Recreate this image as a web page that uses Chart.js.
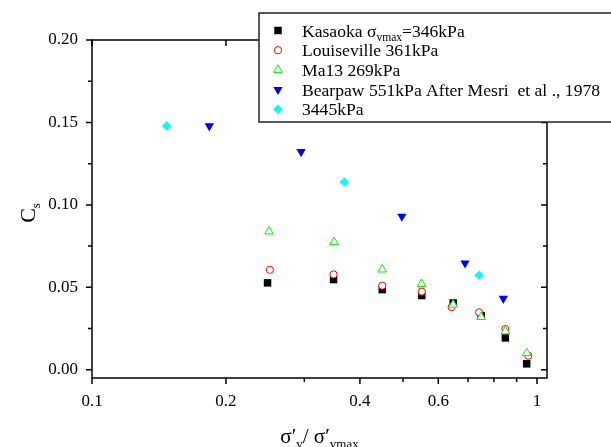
<!DOCTYPE html>
<html>
<head>
<meta charset="utf-8">
<script src="https://cdn.jsdelivr.net/npm/chart.js@4/dist/chart.umd.min.js"></script>
<style>
html,body{margin:0;padding:0;background:#fff;}
canvas{display:block;}
</style>
</head>
<body>
<canvas id="c" width="611" height="447"></canvas>
<script>
// ---- data ----
const kasaokaX = [0.248, 0.349, 0.449, 0.551, 0.648, 0.749, 0.849, 0.948];
const kasaokaY = [0.0527, 0.0547, 0.0486, 0.0450, 0.0405, 0.0328, 0.0193, 0.0036];
const louisX   = [0.251, 0.349, 0.449, 0.551, 0.643, 0.741, 0.849, 0.956];
const louisY   = [0.0606, 0.0578, 0.0510, 0.0474, 0.0380, 0.0348, 0.0247, 0.0085];
const ma13X    = [0.250, 0.350, 0.449, 0.550, 0.648, 0.749, 0.849, 0.948];
const ma13Y    = [0.0839, 0.0774, 0.0608, 0.0520, 0.0395, 0.0320, 0.0233, 0.0101];
const bearpawX = [0.1835, 0.295, 0.497, 0.689, 0.840];
const bearpawY = [0.1478, 0.1322, 0.0930, 0.0647, 0.0432];
const s3445X   = [0.1472, 0.369, 0.741];
const s3445Y   = [0.1479, 0.1139, 0.0573];

const xMajorTicks = [0.1, 0.2, 0.4, 0.6, 1];
const xMinorTicks = [0.3, 0.5, 0.7, 0.8, 0.9];
const xTickLabels = ['0.1', '0.2', '0.4', '0.6', '1'];
const yMajorTicks = [0, 0.05, 0.10, 0.15, 0.20];
const yMinorTicks = [0.025, 0.075, 0.125, 0.175];
const yTickLabels = ['0.00', '0.05', '0.10', '0.15', '0.20'];

const legendLabels = [
  ['Kasaoka σ', 'vmax', '=346kPa'],
  ['Louiseville 361kPa'],
  ['Ma13 269kPa'],
  ['Bearpaw 551kPa After Mesri  et al ., 1978'],
  ['3445kPa']
];

const SERIF = "'Liberation Serif','Times New Roman',serif";

function pts(xs, ys){ return xs.map((x,i)=>({x:x, y:ys[i]})); }

const styles = [
  {pointStyle:'rect', radius:5.3, rotation:0, bg:'#000000', border:'#000000', bw:0},
  {pointStyle:'circle', radius:3.6, rotation:0, bg:'#ffffff', border:'#ff0000', bw:1},
  {pointStyle:'triangle', radius:5.0, rotation:0, bg:'#ffffff', border:'#00ee00', bw:1},
  {pointStyle:'triangle', radius:5.4, rotation:180, bg:'#0000ff', border:'#0000ff', bw:0},
  {pointStyle:'rectRot', radius:4.8, rotation:0, bg:'#00ffff', border:'#00ffff', bw:0}
];
const seriesData = [pts(kasaokaX,kasaokaY), pts(louisX,louisY), pts(ma13X,ma13Y), pts(bearpawX,bearpawY), pts(s3445X,s3445Y)];

const datasets = seriesData.map((d,i)=>({
  label: legendLabels[i].join(''),
  data: d,
  order: 5 - i,
  pointStyle: styles[i].pointStyle,
  pointRadius: styles[i].radius,
  pointRotation: styles[i].rotation,
  pointBackgroundColor: styles[i].bg,
  pointBorderColor: styles[i].border,
  pointBorderWidth: styles[i].bw,
  showLine: false
}));

function drawMarker(ctx, st, x, y){
  ctx.save();
  ctx.fillStyle = st.bg;
  ctx.strokeStyle = st.border;
  ctx.lineWidth = st.bw;
  Chart.helpers.drawPoint(ctx, {pointStyle: st.pointStyle, rotation: st.rotation, radius: st.radius, borderWidth: st.bw}, x, y);
  ctx.restore();
}

const framePlugin = {
  id: 'frame',
  afterDatasetsDraw(chart){
    const ctx = chart.ctx, a = chart.chartArea;
    const xs = chart.scales.x, ys = chart.scales.y;
    ctx.save();
    ctx.strokeStyle = '#000';
    ctx.lineWidth = 1.5;
    ctx.beginPath();
    ctx.rect(a.left, a.top, a.right - a.left, a.bottom - a.top);
    ctx.stroke();
    ctx.beginPath();
    yMajorTicks.forEach(v=>{ const p = ys.getPixelForValue(v);
      ctx.moveTo(a.left - 6, p); ctx.lineTo(a.left, p);
      ctx.moveTo(a.right - 6, p); ctx.lineTo(a.right, p); });
    yMinorTicks.forEach(v=>{ const p = ys.getPixelForValue(v);
      ctx.moveTo(a.left - 4, p); ctx.lineTo(a.left, p);
      ctx.moveTo(a.right - 4, p); ctx.lineTo(a.right, p); });
    xMajorTicks.forEach(v=>{ const p = xs.getPixelForValue(v);
      ctx.moveTo(p, a.bottom); ctx.lineTo(p, a.bottom + 6);
      ctx.moveTo(p, a.top); ctx.lineTo(p, a.top + 6); });
    xMinorTicks.forEach(v=>{ const p = xs.getPixelForValue(v);
      ctx.moveTo(p, a.bottom); ctx.lineTo(p, a.bottom + 4);
      ctx.moveTo(p, a.top); ctx.lineTo(p, a.top + 4); });
    ctx.stroke();

    // axis titles
    ctx.fillStyle = '#000';
    ctx.textBaseline = 'alphabetic';
    ctx.textAlign = 'left';
    const big = '21px ' + SERIF, small = '13px ' + SERIF;
    const parts = [['σ′', big, 0], ['v', small, 5], ['/ σ′', big, 0], ['vmax', small, 5]];
    let w = 0;
    parts.forEach(p=>{ ctx.font = p[1]; w += ctx.measureText(p[0]).width; });
    let x = (a.left + a.right)/2 - w/2;
    const base = 443;
    parts.forEach(p=>{ ctx.font = p[1]; ctx.fillText(p[0], x, base + p[2]); x += ctx.measureText(p[0]).width; });

    ctx.save();
    ctx.translate(35, 213);
    ctx.rotate(-Math.PI/2);
    const bigC = '22px ' + SERIF;
    ctx.font = bigC;
    const wc = ctx.measureText('C').width;
    ctx.font = small;
    const ws = ctx.measureText('s').width;
    let tx = -(wc + ws)/2;
    ctx.font = bigC; ctx.fillText('C', tx, 0);
    ctx.font = small; ctx.fillText('s', tx + wc, 5);
    ctx.restore();

    // legend
    const lx = 259, ly = 13, lw = 400, lh = 109;
    ctx.fillStyle = '#fff';
    ctx.fillRect(lx, ly, lw, lh);
    ctx.strokeStyle = '#222';
    ctx.lineWidth = 1.5;
    ctx.strokeRect(lx, ly, lw, lh);
    const rowY0 = 30.5, step = 19.7;
    legendLabels.forEach((lab,i)=>{
      const cy = rowY0 + step*i;
      drawMarker(ctx, styles[i], 278, cy);
      ctx.fillStyle = '#000';
      let tx2 = 302;
      lab.forEach((t,j)=>{
        const isSub = (lab.length === 3 && j === 1);
        ctx.font = (isSub ? '11.5px ' : '17.6px ') + SERIF;
        ctx.fillText(t, tx2, cy + 6 + (isSub ? 4 : 0));
        tx2 += ctx.measureText(t).width;
      });
    });
    ctx.restore();
  }
};

new Chart(document.getElementById('c'), {
  type: 'scatter',
  data: { datasets: datasets },
  options: {
    responsive: false,
    animation: false,
    devicePixelRatio: 1,
    layout: { padding: { left: 0, top: 40, right: 64, bottom: 0 } },
    plugins: { legend: { display: false }, tooltip: { enabled: false } },
    scales: {
      x: {
        type: 'logarithmic',
        min: 0.1, max: 1.053,
        afterBuildTicks: s => { s.ticks = xMajorTicks.concat(xMinorTicks).sort((p,q)=>p-q).map(v=>({value:v})); },
        afterFit: s => { s.height = 69; },
        grid: { display: false, drawTicks: false },
        border: { display: false },
        ticks: {
          autoSkip: false, maxRotation: 0, padding: 13, color: '#000',
          font: { family: SERIF, size: 17 },
          callback: v => { const i = xMajorTicks.findIndex(m => Math.abs(m - v) < 1e-9); return i >= 0 ? xTickLabels[i] : ''; }
        }
      },
      y: {
        min: -0.005, max: 0.20,
        afterBuildTicks: s => { s.ticks = yMajorTicks.map(v=>({value:v})); },
        afterFit: s => { s.width = 92; },
        grid: { display: false, drawTicks: false },
        border: { display: false },
        ticks: {
          autoSkip: false, padding: 14, color: '#000',
          font: { family: SERIF, size: 17 },
          callback: v => { const i = yMajorTicks.findIndex(m => Math.abs(m - v) < 1e-9); return i >= 0 ? yTickLabels[i] : ''; }
        }
      }
    }
  },
  plugins: [framePlugin]
});
</script>
</body>
</html>
